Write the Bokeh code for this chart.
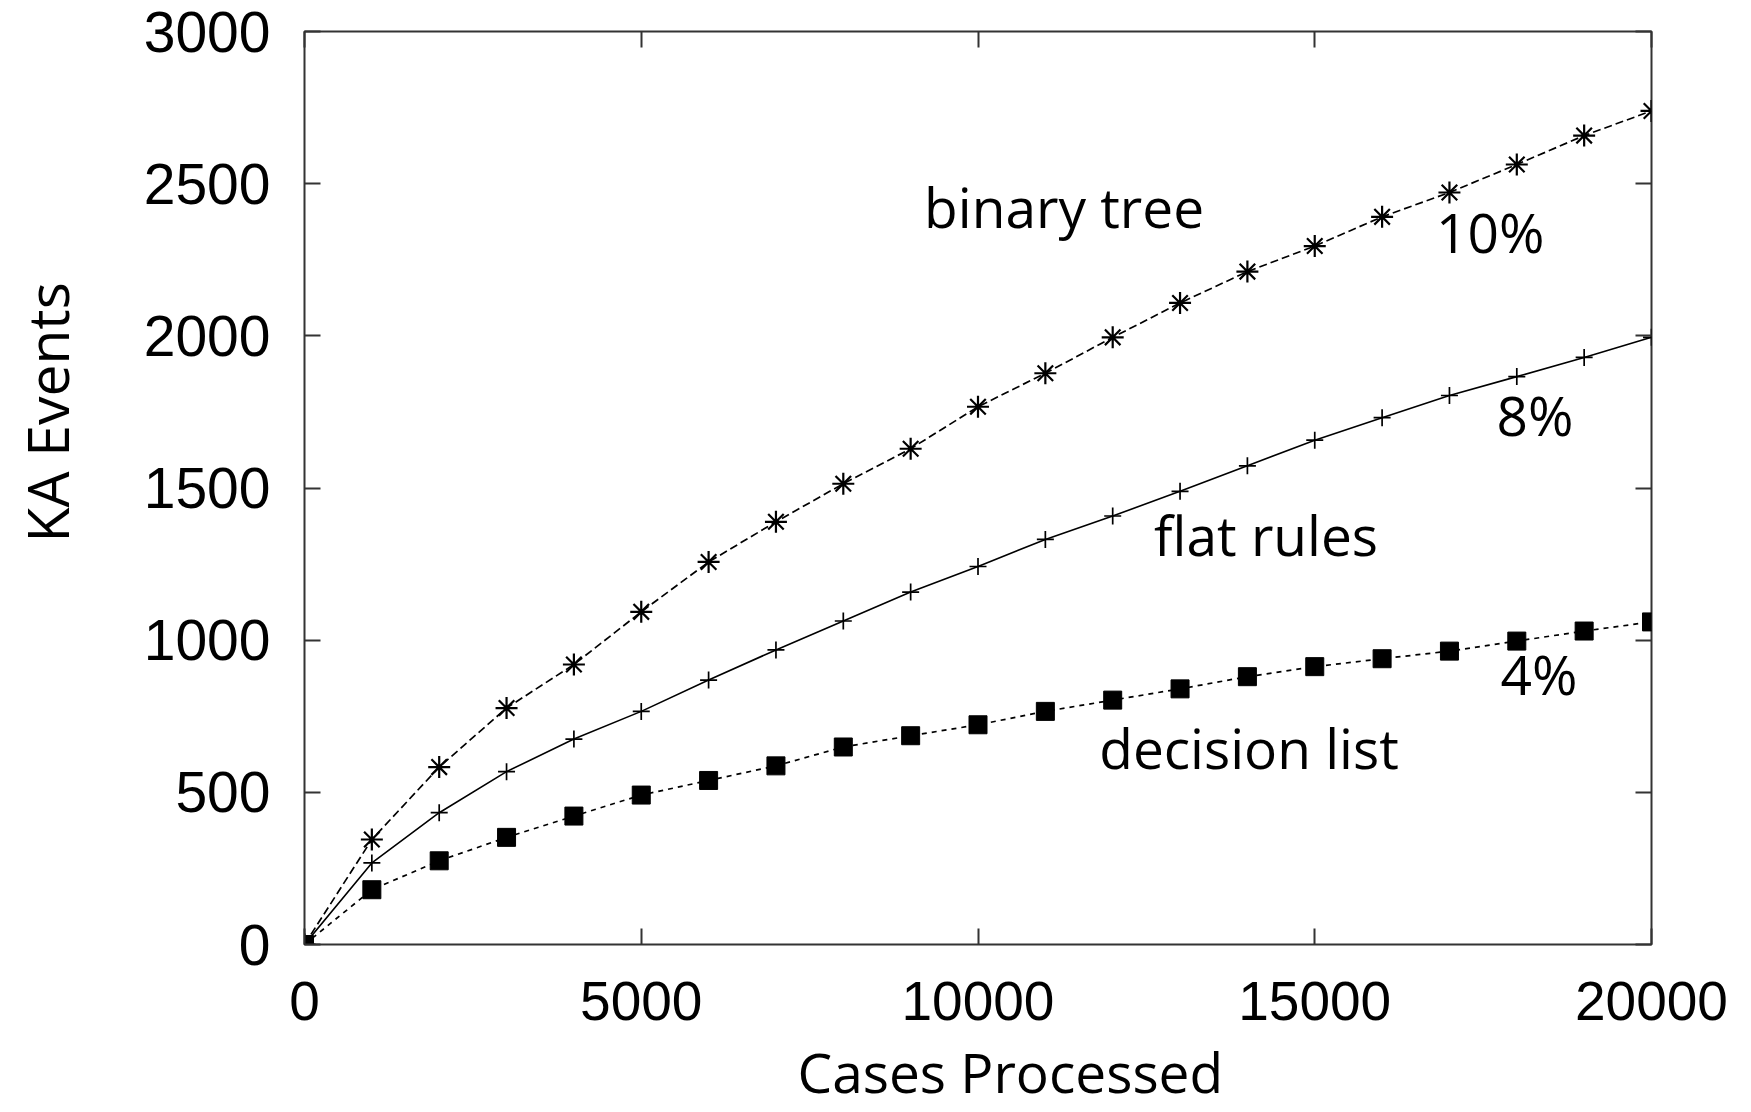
from bokeh.plotting import figure
from bokeh.models import Range1d, LinearAxis, FixedTicker, Title, Label
from bokeh.embed import file_html
from bokeh.resources import INLINE

# ---- data ----
cases = [0, 1000, 2000, 3000, 4000, 5000, 6000, 7000, 8000, 9000, 10000,
         11000, 12000, 13000, 14000, 15000, 16000, 17000, 18000, 19000, 20000]
binary_tree = [0, 345, 583, 777, 920, 1093, 1257, 1389, 1514, 1629, 1767,
               1877, 1995, 2108, 2211, 2295, 2391, 2471, 2563, 2658, 2739]
flat_rules = [0, 268, 433, 568, 675, 766, 869, 968, 1063, 1158, 1242,
              1331, 1408, 1489, 1573, 1657, 1731, 1804, 1866, 1929, 1995]
decision_list = [0, 180, 275, 352, 422, 491, 539, 587, 649, 686, 722,
                 766, 803, 840, 880, 913, 939, 964, 997, 1030, 1060]
x_ticks = [0, 5000, 10000, 15000, 20000]
y_ticks = [0, 500, 1000, 1500, 2000, 2500, 3000]

x_title = "Cases Processed"
y_title = "KA Events"
annotations = ["binary tree", "10%", "flat rules", "8%", "decision list", "4%"]

INK = "#000000"
FRAME = "#333333"

p = figure(width=1743, height=1110,
           x_range=Range1d(0, 20000), y_range=Range1d(0, 3000),
           output_backend="svg", toolbar_location=None,
           min_border_left=304, min_border_right=92,
           min_border_top=31, min_border_bottom=166)
p.grid.visible = False
p.outline_line_color = FRAME
p.outline_line_width = 2
p.background_fill_color = "white"
p.border_fill_color = "white"


def style_axis(ax, ticks, show_labels, standoff=0, size="55px"):
    ax.ticker = FixedTicker(ticks=ticks)
    ax.major_tick_in = 16
    ax.major_tick_out = 0
    ax.minor_tick_in = 0
    ax.minor_tick_out = 0
    ax.major_tick_line_color = FRAME
    ax.major_tick_line_width = 2
    ax.axis_line_color = None
    if show_labels:
        ax.major_label_text_font = "Liberation Sans"
        ax.major_label_text_font_size = size
        ax.major_label_text_color = INK
        ax.major_label_standoff = standoff
    else:
        ax.major_label_overrides = {t: "" for t in ticks}
        ax.major_label_text_font_size = "1px"
        ax.major_label_standoff = 0


def spacer_axis(tick, gap):
    """Invisible axis used only to leave a gap before an axis title."""
    return LinearAxis(ticker=FixedTicker(ticks=[tick]), major_tick_out=gap, major_tick_in=0,
                      minor_tick_in=0, minor_tick_out=0, axis_line_color=None,
                      major_tick_line_color=None, major_label_overrides={tick: ""},
                      major_label_text_font_size="1px", major_label_standoff=0)


style_axis(p.xaxis[0], x_ticks, True, standoff=37, size="55px")
style_axis(p.yaxis[0], y_ticks, True, standoff=34, size="57px")

right_ax = LinearAxis()
style_axis(right_ax, y_ticks, False)
p.add_layout(right_ax, "right")
top_ax = LinearAxis()
style_axis(top_ax, x_ticks, False)
p.add_layout(top_ax, "above")

has_standoff = "standoff" in Title.properties()

p.add_layout(spacer_axis(y_ticks[3], 49), "left")
if has_standoff:
    p.add_layout(spacer_axis(x_ticks[2], 9), "below")

title_kw = {"standoff": 0} if has_standoff else {}

# axis titles
p.add_layout(Title(text=y_title, align="left", offset=402, text_font="Open Sans",
                   text_font_size="57px", text_font_style="normal", text_color=INK,
                   vertical_align="middle"), "left")
p.add_layout(Title(text=x_title, align="left", offset=493, text_font="Open Sans",
                   text_font_size="55px", text_font_style="normal", text_color=INK,
                   **title_kw), "below")

# ---- series ----
p.line(cases, binary_tree, line_color=INK, line_width=1.7, line_dash="8 4")
p.scatter(cases, binary_tree, marker="asterisk", size=22, line_color=INK, line_width=2.2)

p.line(cases, flat_rules, line_color=INK, line_width=1.6)
p.scatter(cases, flat_rules, marker="cross", size=17, line_color=INK, line_width=1.7)

p.line(cases, decision_list, line_color=INK, line_width=1.7, line_dash="5 5")
p.scatter(cases, decision_list, marker="square", size=18, fill_color=INK, line_color=INK)

# ---- annotations ----
ann_pos = [(9200, 2425), (16800, 2343), (12614, 1347), (17699, 1743), (11800, 647), (17758, 890)]
for txt, (ax_, ay_) in zip(annotations, ann_pos):
    p.add_layout(Label(x=ax_, y=ay_, text=txt, text_font="Open Sans", text_font_size="55px",
                       text_color=INK, text_align="left", text_baseline="alphabetic"))

open("out.html", "w").write(file_html(p, INLINE))
